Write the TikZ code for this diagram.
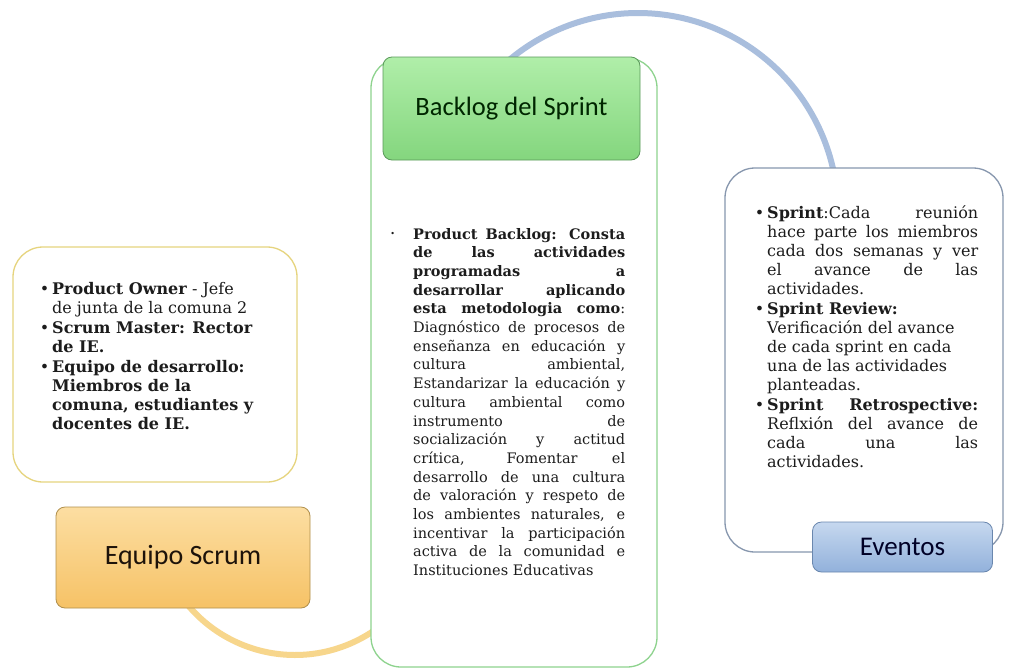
\documentclass[tikz,border=0pt]{standalone}
\usepackage{graphicx}
\usepackage{fontspec}
\setmainfont{DejaVu Serif}
\newfontfamily\boxfont{Carlito}

\definecolor{lpanel}{HTML}{E6D47E}
\definecolor{orangetop}{HTML}{FCDEA2}
\definecolor{orangebot}{HTML}{F6C266}
\definecolor{orangeline}{HTML}{B08F4C}
\definecolor{orangearc}{HTML}{F7D68C}
\definecolor{mpanel}{HTML}{8ED38E}
\definecolor{greentop}{HTML}{B0EEA9}
\definecolor{greenbot}{HTML}{84D67E}
\definecolor{greenline}{HTML}{5A995A}
\definecolor{bluearc}{HTML}{A9BEDD}
\definecolor{rpanel}{HTML}{8797AE}
\definecolor{bluetop}{HTML}{C6D8EF}
\definecolor{bluebot}{HTML}{92B1DB}
\definecolor{blueline}{HTML}{6A87AE}
\definecolor{bodytext}{HTML}{1C1C1C}

% one justified line, spaces stretched to the full column width
\newcommand\jl[1]{\makebox[\linewidth][s]{#1}\\}
% hanging bullets
\newcommand\bul{\leavevmode\llap{\textbullet\hspace{3pt}}}
\newcommand\sbul{\leavevmode\llap{\raisebox{3pt}{\scalebox{0.55}{\textbullet}}\hspace{18pt}}}

\begin{document}
\begin{tikzpicture}[x=1pt,y=-1pt,
  panel/.style={draw=#1, fill=white, line width=1.3pt, rounded corners=30pt,
                inner sep=0pt},
  labelbox/.style={line width=0.8pt, rounded corners=9pt, inner sep=0pt},
  linkarc/.style={draw=#1, line width=6pt},
  bodybox/.style={anchor=base west, inner sep=0pt, text=bodytext}]

\useasboundingbox[fill=white] (0,0) rectangle (1013,670);

% curved links running behind the panels
\draw[linkarc=orangearc] plot[domain=50:146, samples=80, smooth]
  ({295+140*cos(\x)},{515+140*sin(\x)});
\draw[linkarc=bluearc] plot[domain=-136:-8, samples=80, smooth]
  ({638+200*cos(\x)},{213+200*sin(\x)});

% text panels
\node[panel=lpanel, minimum width=284pt, minimum height=235pt] (leftpanel) at (155,364.5) {};
\node[panel=mpanel, minimum width=286pt, minimum height=609pt] (midpanel) at (514,362.5) {};
\node[panel=rpanel, minimum width=278pt, minimum height=384pt] (rightpanel) at (864,360) {};

% title boxes
\node[labelbox, draw=orangeline, top color=orangetop, bottom color=orangebot,
      minimum width=254pt, minimum height=101pt, text=black!85!brown,
      font=\boxfont\fontsize{28}{32}\selectfont] (equipo) at (183,557.5) {Equipo Scrum};
\node[labelbox, draw=greenline, top color=greentop, bottom color=greenbot,
      minimum width=257pt, minimum height=103pt, text=black!85!green,
      font=\boxfont\fontsize{26.5}{30}\selectfont] (backlog) at (511.5,108.5) {Backlog del Sprint};
\node[labelbox, draw=blueline, top color=bluetop, bottom color=bluebot,
      minimum width=180pt, minimum height=50pt, text=black!85!blue,
      font=\boxfont\fontsize{27}{30}\selectfont] (eventos) at (902.5,547) {Eventos};

% left panel text
\node[bodybox] (lefttext) at (52,294) {\parbox[t]{205pt}{\fontsize{16}{19}\selectfont\raggedright
\bul\textbf{Product Owner} - Jefe\\
de junta de la comuna 2\\[1pt]
\bul\textbf{Scrum Master: Rector}\\
\textbf{de IE.}\\[1pt]
\bul\textbf{Equipo de desarrollo:}\\
\textbf{Miembros de la}\\
\textbf{comuna, estudiantes y}\\
\textbf{docentes de IE.}}};

% middle panel text
\node[bodybox] (midtext) at (413,239) {\parbox[t]{212pt}{\fontsize{14.5}{18.7}\selectfont
\jl{\sbul\textbf{Product Backlog: Consta}}
\jl{\textbf{de las actividades}}
\jl{\textbf{programadas a}}
\jl{\textbf{desarrollar aplicando}}
\jl{\textbf{esta metodologia como}:}
\jl{Diagnóstico de procesos de}
\jl{enseñanza en educación y}
\jl{cultura ambiental,}
\jl{Estandarizar la educación y}
\jl{cultura ambiental como}
\jl{instrumento de}
\jl{socialización y actitud}
\jl{crítica, Fomentar el}
\jl{desarrollo de una cultura}
\jl{de valoración y respeto de}
\jl{los ambientes naturales, e}
\jl{incentivar la participación}
\jl{activa de la comunidad e}
Instituciones Educativas}};

% right panel text
\node[bodybox] (righttext) at (767,218) {\parbox[t]{211pt}{\fontsize{16}{19}\selectfont\raggedright
\jl{\bul\textbf{Sprint}:Cada reunión}
\jl{hace parte los miembros}
\jl{cada dos semanas y ver}
\jl{el avance de las}
actividades.\\[1pt]
\bul\textbf{Sprint Review:}\\
Verificación del avance\\
de cada sprint en cada\\
una de las actividades\\
planteadas.\\[1pt]
\jl{\bul\textbf{Sprint Retrospective:}}
\jl{Reflxión del avance de}
\jl{cada una las}
actividades.}};

\end{tikzpicture}
\end{document}
